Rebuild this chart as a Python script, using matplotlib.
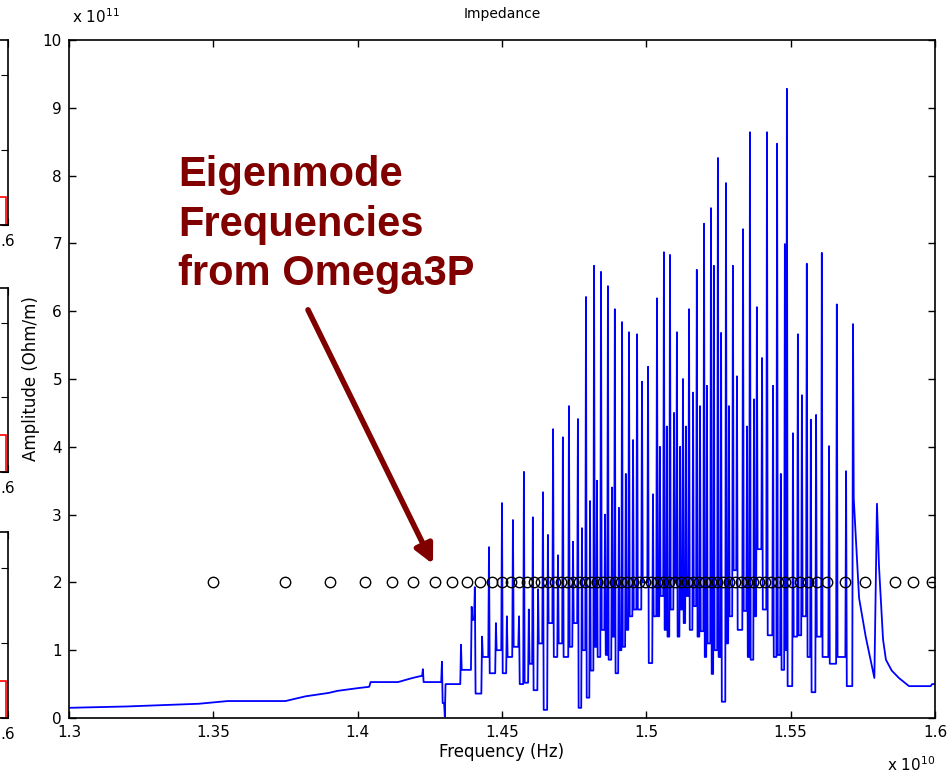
import matplotlib.pyplot as plt
from matplotlib.patches import Rectangle

plt.rcParams['font.family'] = ['DejaVu Sans']

# frequency in units of 1e10 Hz, amplitude in units of 1e11 Ohm/m
# smooth response below the passband
low_freq = [1.300, 1.320, 1.345, 1.355, 1.375, 1.382, 1.390, 1.393, 1.400, 1.404,
            1.4045, 1.414, 1.419, 1.422]
low_amp = [0.15, 0.17, 0.21, 0.25, 0.25, 0.32, 0.37, 0.40, 0.44, 0.46,
           0.53, 0.53, 0.59, 0.62]

# resonance peaks: position, top, and the level the curve drops to afterwards
peak_freq = [1.4226, 1.4292, 1.4302, 1.4358, 1.4395, 1.4406, 1.4431, 1.4455, 1.4479,
             1.4500, 1.4517, 1.4538, 1.4559, 1.4576, 1.4593, 1.4607, 1.4625, 1.4642,
             1.4659, 1.4677, 1.4694, 1.4711, 1.4732, 1.4746, 1.4763, 1.4777, 1.4791,
             1.4805, 1.4819, 1.4829, 1.4843, 1.4857, 1.4867, 1.4881, 1.4891, 1.4905,
             1.4916, 1.4929, 1.4940, 1.4954, 1.4968, 1.4985, 1.5006, 1.5023, 1.5037,
             1.5047, 1.5061, 1.5071, 1.5082, 1.5096, 1.5106, 1.5117, 1.5127, 1.5137,
             1.5148, 1.5162, 1.5175, 1.5186, 1.5200, 1.5210, 1.5224, 1.5234, 1.5248,
             1.5259, 1.5276, 1.5286, 1.5300, 1.5314, 1.5335, 1.5349, 1.5359, 1.5373,
             1.5383, 1.5401, 1.5418, 1.5439, 1.5453, 1.5466, 1.5480, 1.5487, 1.5508,
             1.5525, 1.5539, 1.5556, 1.5570, 1.5588, 1.5608, 1.5633, 1.5660, 1.5692,
             1.5716]
peak_amp = [0.72, 0.83, 0.02, 1.08, 1.64, 1.93, 1.20, 2.52, 1.40,
            3.17, 1.50, 2.92, 1.50, 3.63, 1.60, 2.96, 1.90, 3.33,
            2.70, 4.26, 2.40, 4.14, 4.60, 2.60, 4.41, 2.80, 6.21,
            3.20, 6.67, 3.50, 6.58, 3.00, 6.37, 3.40, 6.03, 3.10,
            5.84, 3.60, 5.69, 4.10, 5.66, 4.96, 5.18, 3.30, 6.19,
            4.00, 6.87, 4.30, 6.83, 4.50, 5.69, 4.00, 5.00, 4.30,
            6.03, 4.80, 6.61, 4.60, 7.29, 4.90, 7.52, 6.67, 8.26,
            5.68, 7.89, 4.60, 6.67, 5.04, 7.21, 4.30, 8.64, 4.70,
            6.06, 5.31, 8.64, 4.90, 8.47, 3.60, 6.99, 9.28, 4.20,
            5.66, 4.76, 6.70, 4.40, 4.47, 6.86, 4.01, 6.10, 3.64,
            5.81]
dip_amp = [0.53, 0.22, 0.50, 0.71, 1.45, 0.36, 0.90, 0.66, 1.00,
           0.66, 0.90, 1.05, 0.50, 0.52, 0.80, 0.41, 1.10, 0.12,
           1.40, 0.90, 1.10, 0.90, 1.05, 1.40, 0.15, 1.00, 0.30,
           0.70, 1.05, 0.90, 1.30, 0.93, 0.86, 1.20, 0.66, 1.00,
           1.05, 1.30, 1.50, 1.60, 1.60, 2.00, 0.81, 1.50, 1.50,
           1.80, 1.30, 1.20, 1.60, 2.00, 1.20, 1.60, 1.40, 1.80,
           1.30, 1.65, 1.20, 1.28, 0.90, 1.10, 0.65, 1.00, 0.90,
           0.24, 1.10, 1.50, 2.18, 1.30, 1.58, 0.90, 0.86, 1.50,
           2.49, 1.60, 1.22, 0.90, 0.93, 0.71, 1.00, 0.47, 1.20,
           1.22, 1.50, 0.90, 0.38, 1.20, 0.90, 0.80, 0.90, 0.47,
           3.24]

# decay above the passband
tail_freq = [1.5737, 1.5760, 1.5790, 1.5799, 1.5806, 1.5820, 1.5830, 1.5850,
             1.5875, 1.5910, 1.5985, 1.5990, 1.6000]
tail_amp = [1.77, 1.20, 0.59, 3.16, 2.24, 1.16, 0.86, 0.70,
            0.59, 0.47, 0.47, 0.50, 0.50]

# eigenmode frequencies (Omega3P), drawn at a fixed level
mode_freq = [1.3499, 1.3748, 1.3904, 1.4025, 1.4119, 1.4192, 1.4268, 1.4327, 1.4379,
             1.4424, 1.4465, 1.4500, 1.4531, 1.4559, 1.4587, 1.4611, 1.4635, 1.4659,
             1.4684, 1.4704, 1.4725, 1.4746, 1.4767, 1.4787, 1.4808, 1.4829, 1.4850,
             1.4871, 1.4891, 1.4912, 1.4933, 1.4954, 1.4975, 1.4995, 1.5016, 1.5037,
             1.5058, 1.5078, 1.5099, 1.5120, 1.5141, 1.5162, 1.5182, 1.5203, 1.5224,
             1.5245, 1.5265, 1.5286, 1.5307, 1.5328, 1.5349, 1.5369, 1.5390, 1.5411,
             1.5432, 1.5456, 1.5480, 1.5504, 1.5532, 1.5560, 1.5591, 1.5626, 1.5688,
             1.5757, 1.5861, 1.5924, 1.5989]
mode_level = 2.0

x_ticks = [1.3, 1.35, 1.4, 1.45, 1.5, 1.55, 1.6]
x_tick_labels = ["1.3", "1.35", "1.4", "1.45", "1.5", "1.55", "1.6"]
y_ticks = list(range(0, 11))

note_text = "Eigenmode\nFrequencies\nfrom Omega3P"
note_pos = (1.3378, 8.30)
arrow_tail = (1.3828, 6.02)
arrow_tip = (1.4261, 2.27)
note_color = "#800000"

# build the spectrum line: flat between resonances, narrow spike at each one
hw = 0.00025
trace_f = list(low_freq)
trace_a = list(low_amp)
prev = low_amp[-1]
for f, a, d in zip(peak_freq, peak_amp, dip_amp):
    trace_f += [f - hw, f, f + hw]
    trace_a += [prev, a, d]
    prev = d
trace_f += tail_freq
trace_a += tail_amp

fig = plt.figure(figsize=(9.5, 7.8), dpi=100)

# remnants of the neighbouring panels cut off at the left edge
side_boxes = [(0.7115, 0.237, 0.15), (0.3949, 0.236, 0.20), (0.0795, 0.238, 0.20)]
for bottom, height, red_h in side_boxes:
    sax = fig.add_axes([-0.3, bottom, 0.3079, height])
    sax.set_xlim(1.3, 1.6)
    sax.set_ylim(0, 2.47)
    sax.set_yticks([0, 1, 2])
    sax.set_xticks([1.6])
    sax.tick_params(direction="in", right=True, top=True, length=5,
                    labelleft=False, labelbottom=False)
    for s in sax.spines.values():
        s.set_linewidth(1.2)
    sax.add_patch(Rectangle((0.5, 0.0), 0.495, red_h, transform=sax.transAxes,
                            fill=False, edgecolor="red", lw=1.2))
    fig.text(0.0, bottom - 0.012, ".6", fontsize=11, ha="left", va="top")

ax = fig.add_axes([0.0726, 0.0795, 0.9116, 0.8692])
ax.plot(trace_f, trace_a, color="#0000ff", lw=1.3)
ax.plot(mode_freq, [mode_level] * len(mode_freq), linestyle="none", marker="o",
        ms=7.5, mfc="none", mec="black", mew=1.0)

ax.set_xlim(1.3, 1.6)
ax.set_ylim(0, 10)
ax.set_xticks(x_ticks)
ax.set_xticklabels(x_tick_labels)
ax.set_yticks(y_ticks)
ax.tick_params(direction="in", top=True, right=True, length=5, width=1,
               labelsize=11, pad=5)
for s in ax.spines.values():
    s.set_linewidth(1.2)

ax.set_title("Impedance", fontsize=10, pad=16)
ax.set_xlabel("Frequency (Hz)", fontsize=12, labelpad=2)
ax.set_ylabel("Amplitude (Ohm/m)", fontsize=12, labelpad=2)
ax.text(0.003, 1.02, r"x 10$^{11}$", transform=ax.transAxes, fontsize=11,
        ha="left", va="bottom")
ax.text(1.0, -0.055, r"x 10$^{10}$", transform=ax.transAxes, fontsize=11,
        ha="right", va="top")

ax.annotate("", xy=arrow_tip, xytext=arrow_tail,
            arrowprops=dict(arrowstyle="-|>", color=note_color, lw=4,
                            mutation_scale=28, shrinkA=0, shrinkB=0))
ax.text(note_pos[0], note_pos[1], note_text, color=note_color, fontsize=30,
        fontweight="bold", family="Liberation Sans", ha="left", va="top",
        linespacing=1.3)

fig.savefig("out.png", dpi=100)
